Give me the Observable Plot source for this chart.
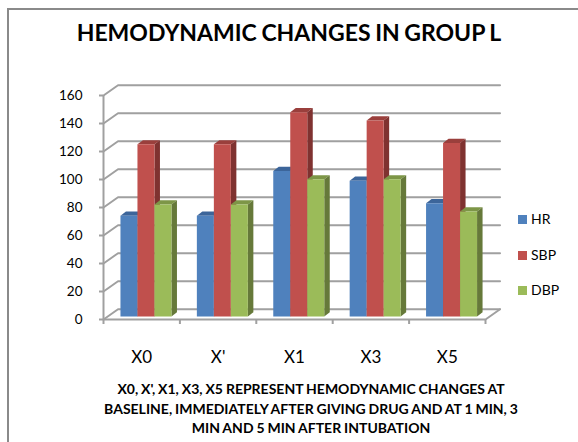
<!DOCTYPE html>
<html><head><meta charset="utf-8">
<script src="https://cdn.jsdelivr.net/npm/d3@7"></script>
<script src="https://cdn.jsdelivr.net/npm/@observablehq/plot@0.6"></script>
<style>
html,body{margin:0;padding:0;background:#fff}
#wrap{position:relative;width:578px;height:442px;overflow:hidden;font-family:Lato,sans-serif;color:#000}
#frame{position:absolute;left:7px;top:8px;width:600px;height:500px;border:2px solid #8a8a8a;box-sizing:border-box}
#title{position:absolute;left:0;width:578px;top:18px;text-align:center;font-weight:700;font-size:23px;line-height:28px;word-spacing:-1px}
#chart{position:absolute;left:0;top:0}
#caption{position:absolute;left:61px;width:500px;top:379px;text-align:center;font-weight:700;font-size:14px;line-height:19.5px;word-spacing:-.5px}
.lg{position:absolute;left:518px;font-size:14px;line-height:16px}
.lg i{display:inline-block;width:9px;height:9px;margin-right:4px}
</style></head><body>
<div id="wrap"><div id="frame"></div>
<div id="chart"></div>
<div id="title">HEMODYNAMIC CHANGES IN GROUP L</div>
<div id="caption">X0, X', X1, X3, X5 REPRESENT HEMODYNAMIC CHANGES AT<br>BASELINE, IMMEDIATELY AFTER GIVING DRUG AND AT 1 MIN, 3<br>MIN AND 5 MIN AFTER INTUBATION</div>
<div id="legend"></div>
</div>
<script>
const categories = ["X0","X'","X1","X3","X5"];
const seriesNames = ["HR","SBP","DBP"];
const HR  = [72,72,104,97,81];
const SBP = [123,123,146,140,124];
const DBP = [80,80,98,98,75];
const yTicks = [0,20,40,60,80,100,120,140,160];
const front = ["#4f81bd","#c0504d","#9bbb59"];
const side  = ["#385d8a","#7f3230","#66793a"];
const topc  = ["#3c659a","#9a3f3c","#7d9647"];
const values = [HR,SBP,DBP];

// scale-unit geometry of the pseudo-3D box
const wallX = 0.19, wallY = 7.3;       // back wall shift
const barX0 = 0.222, barW = 0.2225;    // first bar start, bar width in category units
const base = 2.1;                      // bar foot in value units
const depX = 0.072, depY = 3;          // bar depth

const poly = (pts, fill) => ({fill, pts: pts.map(([x,y]) => ({x, y}))});
const faceMarks = [];
categories.forEach((c,i) => {
  [0,1,2].forEach(s => {
    const vals = values[s];
    const l = i + barX0 + s*barW, r = l + barW, t = vals[i] + base;
    [
      poly([[l,t],[l+depX,t+depY],[r+depX,t+depY],[r,t]], topc[s]),
      poly([[r,base],[r+depX,base+depY],[r+depX,t+depY],[r,t]], side[s]),
      poly([[l,base],[r,base],[r,t],[l,t]], front[s])
    ].forEach(f => faceMarks.push(Plot.line(f.pts,{x:"x",y:"y",fill:f.fill,stroke:"none"})));
  });
});

const grid = yTicks.map(v => [{x:0,y:v},{x:wallX,y:v+wallY},{x:5+wallX,y:v+wallY}]);
const floorEdge = [{x:5,y:0},{x:5+wallX,y:wallY}];
const axisColor = "#a0a0a0";

const chart = Plot.plot({
  width:578, height:442,
  marginLeft:103, marginRight:93, marginTop:95, marginBottom:123,
  x:{type:"linear",domain:[0,5]}, y:{type:"linear",domain:[0,160]},
  style:{fontFamily:"Lato,sans-serif",background:"transparent"},
  marks:[
    ...grid.map(g=>Plot.line(g,{x:"x",y:"y",stroke:axisColor,strokeWidth:2})),
    Plot.line(floorEdge,{x:"x",y:"y",stroke:axisColor,strokeWidth:2}),
    Plot.ruleY([0],{x1:0,x2:5,stroke:axisColor,strokeWidth:2}),
    Plot.ruleX([0],{y1:0,y2:160,stroke:axisColor,strokeWidth:2}),
    ...faceMarks,
    Plot.axisY({ticks:yTicks,tickSize:4,stroke:axisColor,strokeWidth:2,tickPadding:17,fontSize:13.5,label:null,color:"#000"}),
    Plot.axisX({ticks:[0,1,2,3,4,5],tickSize:5,tickFormat:()=>"",stroke:axisColor,strokeWidth:2,label:null}),
    Plot.text(categories,{x:(d,i)=>i+0.5,y:-27,text:d=>d,fontSize:17,fill:"#000"})
  ]
});
document.getElementById("chart").append(chart);

const legend = document.getElementById("legend");
seriesNames.forEach((n,i)=>{
  const d=document.createElement("div");
  d.className="lg"; d.style.top=(211+i*35.5)+"px";
  d.innerHTML=`<i style="background:${front[i]}"></i>${n}`;
  legend.append(d);
});
</script>
</body></html>
